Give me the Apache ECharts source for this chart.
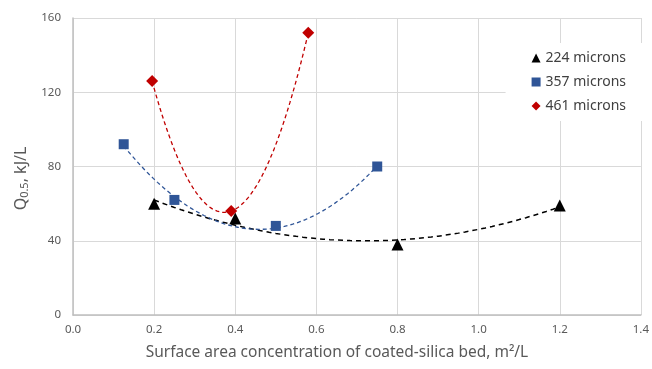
<!DOCTYPE html>
<html>
<head>
<meta charset="utf-8">
<script src="https://cdn.jsdelivr.net/npm/echarts@6/dist/echarts.min.js"></script>
<style>
  html, body { margin: 0; padding: 0; background: #fff; }
  #chart { width: 652px; height: 369px; }
</style>
</head>
<body>
<div id="chart"></div>
<script>
const x224 = [0.2, 0.4, 0.8, 1.2];
const y224 = [60, 52, 38, 59];
const x357 = [0.125, 0.25, 0.5, 0.75];
const y357 = [92, 62, 48, 80];
const x461 = [0.195, 0.39, 0.58];
const y461 = [126, 56, 152];
const seriesNames = ['224 microns', '357 microns', '461 microns'];

// 2nd order polynomial least squares fit (like the Excel trendline)
function polyFit(xs, ys) {
  let s = [0, 0, 0, 0, 0], t = [0, 0, 0];
  for (let i = 0; i < xs.length; i++) {
    for (let k = 0; k < 5; k++) s[k] += Math.pow(xs[i], k);
    for (let k = 0; k < 3; k++) t[k] += ys[i] * Math.pow(xs[i], k);
  }
  const m = [
    [s[0], s[1], s[2], t[0]],
    [s[1], s[2], s[3], t[1]],
    [s[2], s[3], s[4], t[2]],
  ];
  for (let c = 0; c < 3; c++) {
    for (let r = c + 1; r < 3; r++) {
      const f = m[r][c] / m[c][c];
      for (let k = c; k < 4; k++) m[r][k] -= f * m[c][k];
    }
  }
  const a = [0, 0, 0];
  for (let r = 2; r >= 0; r--) {
    let v = m[r][3];
    for (let k = r + 1; k < 3; k++) v -= m[r][k] * a[k];
    a[r] = v / m[r][r];
  }
  return a;
}

function trend(xs, ys) {
  const a = polyFit(xs, ys);
  const lo = Math.min(...xs), hi = Math.max(...xs);
  const out = [];
  for (let i = 0; i <= 60; i++) {
    const x = lo + (hi - lo) * i / 60;
    out.push([x, a[0] + a[1] * x + a[2] * x * x]);
  }
  return out;
}

function pts(xs, ys) {
  return xs.map((x, i) => [x, ys[i]]);
}

const chart = echarts.init(document.getElementById('chart'));
const font = 'Noto Sans';

const option = {
  animation: false,
  grid: { left: 73, right: 8, top: 18, bottom: 54 },
  legend: {
    orient: 'vertical',
    right: 8,
    top: 43,
    data: seriesNames,
    itemWidth: 9,
    itemHeight: 9,
    itemGap: 10,
    backgroundColor: '#fff',
    padding: [8, 18, 8, 26],
    textStyle: { color: '#404040', fontSize: 14, fontFamily: font },
  },
  xAxis: {
    type: 'value',
    min: 0,
    max: 1.4,
    interval: 0.2,
    name: 'Surface area concentration of coated-silica bed, m\u00b2/L',
    nameLocation: 'middle',
    nameGap: 30,
    nameTextStyle: { color: '#595959', fontSize: 15.5, fontFamily: font, padding: [0, 40, 0, 0] },
    axisLine: { lineStyle: { color: '#BFBFBF', width: 1.5 } },
    axisTick: { show: false },
    axisLabel: { color: '#595959', fontSize: 11.5, fontFamily: font, margin: 9, formatter: v => v.toFixed(1) },
    splitLine: { show: true, lineStyle: { color: '#D9D9D9' } },
  },
  yAxis: {
    type: 'value',
    min: 0,
    max: 160,
    interval: 40,
    name: '{a|Q}{s|0.5}{a|, kJ/L}',
    nameLocation: 'middle',
    nameGap: 40,
    nameTextStyle: {
      color: '#595959',
      padding: [0, 24, 0, 0],
      rich: {
        a: { fontSize: 16, fontFamily: font, color: '#595959' },
        s: { fontSize: 11, fontFamily: font, color: '#595959', verticalAlign: 'bottom', padding: [7, 0, 0, 0] },
      },
    },
    axisLine: { show: true, lineStyle: { color: '#BFBFBF', width: 1.5 } },
    axisTick: { show: false },
    axisLabel: { color: '#595959', fontSize: 11.5, fontFamily: font, margin: 12 },
    splitLine: { lineStyle: { color: '#D9D9D9' } },
  },
  series: [
    {
      name: 'fit224', type: 'line', data: trend(x224, y224), showSymbol: false, silent: true,
      lineStyle: { color: '#000', width: 1.5, type: [5, 4] }, z: 2,
    },
    {
      name: 'fit357', type: 'line', data: trend(x357, y357), showSymbol: false, silent: true,
      lineStyle: { color: '#2F5597', width: 1.3, type: [4, 3] }, z: 2,
    },
    {
      name: 'fit461', type: 'line', data: trend(x461, y461), showSymbol: false, silent: true,
      lineStyle: { color: '#C00000', width: 1.3, type: [4, 3] }, z: 2,
    },
    {
      name: seriesNames[0], type: 'scatter', data: pts(x224, y224),
      symbol: 'triangle', symbolSize: 12, itemStyle: { color: '#000', opacity: 1 }, z: 3,
    },
    {
      name: seriesNames[1], type: 'scatter', data: pts(x357, y357),
      symbol: 'rect', symbolSize: 10, itemStyle: { color: '#2F5597', opacity: 1 }, z: 3,
    },
    {
      name: seriesNames[2], type: 'scatter', data: pts(x461, y461),
      symbol: 'diamond', symbolSize: 12, itemStyle: { color: '#C00000', opacity: 1 }, z: 3,
    },
  ],
};

chart.setOption(option);
</script>
</body>
</html>
